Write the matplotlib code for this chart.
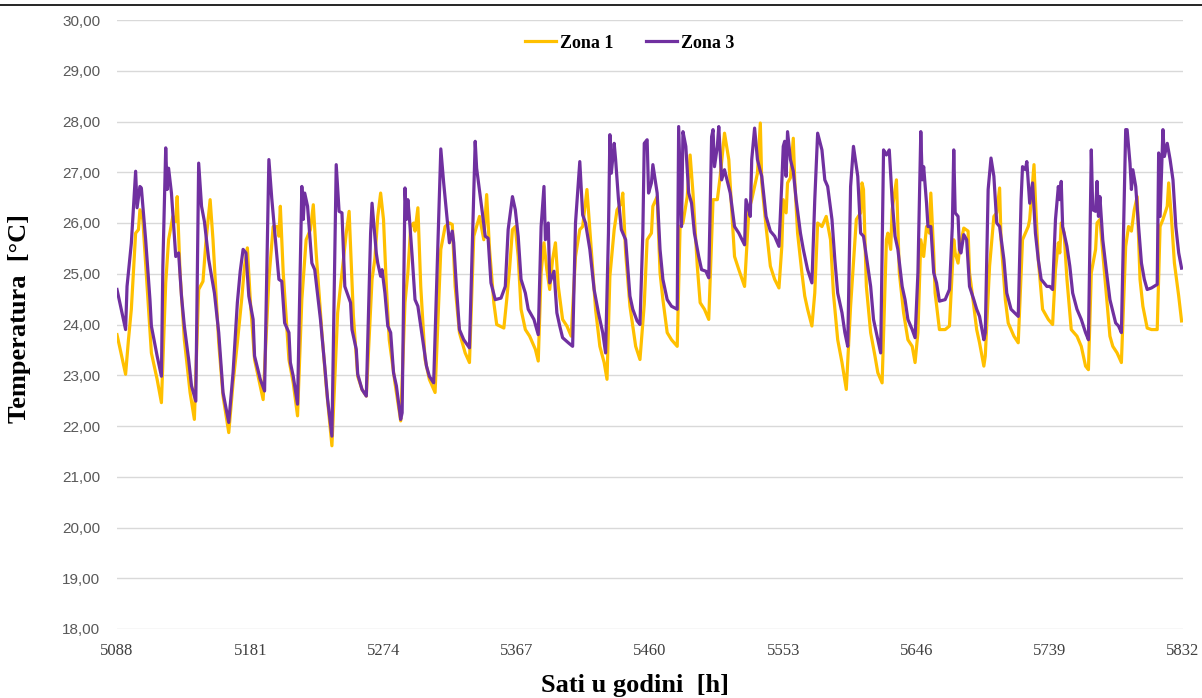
import numpy as np
import matplotlib
matplotlib.use('Agg')
import matplotlib.pyplot as plt
from matplotlib.lines import Line2D

# pocetni sat (1. jul) i tacke ocitane sa grafika: sat od pocetka, temperatura
START = 5088

zona1_h = [0, 6, 8, 10, 13, 15, 16, 18, 21, 24, 28, 31, 34, 36, 39, 41, 42, 44, 47, 51, 54, 57, 60, 62, 65, 67,
           71, 74, 78, 81, 84, 87, 89, 91, 93, 96, 102, 106, 109, 112, 113, 114, 116, 120, 123, 126, 129, 132, 135,
           137, 139, 143, 146, 150, 154, 157, 160, 162, 165, 168, 171, 174, 178, 180, 182, 184, 186, 188, 190, 194,
           198, 201, 203, 205, 207, 208, 210, 212, 215, 218, 222, 226, 229, 232, 234, 236, 239, 243, 246, 249, 253,
           256, 258, 260, 263, 265, 270, 272, 274, 276, 278, 280, 282, 285, 288, 292, 294, 296, 298, 300, 302, 304,
           306, 308, 311, 314, 317, 320, 323, 325, 328, 331, 334, 337, 340, 342, 344, 347, 349, 352, 353, 355, 358,
           362, 365, 368, 370, 373, 374, 377, 379, 381, 384, 387, 391, 393, 395, 398, 400, 402, 405, 407, 410, 413,
           416, 419, 421, 424, 427, 429, 431, 434, 438, 441, 443, 447, 449, 450, 453, 456, 459, 462, 464, 465, 467,
           468, 470, 472, 473, 475, 478, 480, 482, 485, 487, 489, 492, 495, 498, 500, 503, 506, 509, 512, 516, 519,
           520, 521, 523, 526, 529, 531, 534, 537, 538, 540, 541, 544, 546, 549, 552, 555, 557, 559, 561, 563, 565,
           567, 568, 570, 571, 574, 578, 581, 584, 585, 587, 588, 591, 594, 595, 598, 600, 602, 605, 606, 609, 612,
           614, 616, 617, 620, 622, 626, 629, 632, 634, 636, 637, 640, 641, 643, 646, 650, 653, 655, 657, 658, 659,
           661, 663, 666, 670, 673, 676, 678, 680, 683, 684, 686, 687, 690, 693, 695, 698, 701, 704, 706, 708, 710,
           712, 714, 716, 719, 722, 726, 728, 730, 733, 734, 736, 738, 741, 743]
zona1_t = [23.80, 23.02, 23.70, 24.30, 25.80, 25.87, 26.26, 26.07, 24.75, 23.44, 22.92, 22.46, 24.82, 25.67, 26.13,
           26.03, 26.52, 25.02, 23.70, 22.66, 22.13, 24.69, 24.85, 25.61, 26.46, 25.67, 23.64, 22.59, 21.87, 22.85,
           23.64, 24.49, 25.15, 25.51, 24.49, 23.31, 22.52, 24.89, 25.93, 25.93, 25.74, 26.33, 25.02, 23.31, 22.85,
           22.20, 24.49, 25.67, 25.87, 26.36, 25.41, 23.84, 22.79, 21.61, 24.23, 25.02, 25.80, 26.23, 24.16, 22.98,
           22.72, 22.59, 24.89, 25.30, 26.13, 26.59, 26.07, 24.75, 23.70, 22.85, 22.10, 24.43, 25.02, 25.93, 26.00,
           25.84, 26.30, 24.75, 23.31, 22.92, 22.66, 25.48, 25.93, 26.00, 25.97, 24.75, 23.84, 23.44, 23.25, 25.74,
           26.13, 25.67, 26.56, 25.48, 24.43, 24.00, 23.93, 24.49, 25.10, 25.87, 25.93, 25.34, 24.30, 23.90, 23.77,
           23.51, 23.28, 25.02, 25.61, 25.08, 24.69, 25.28, 25.61, 24.75, 24.10, 23.97, 23.77, 25.34, 25.87, 25.93,
           26.66, 25.48, 24.30, 23.57, 23.25, 22.92, 24.95, 25.87, 26.26, 26.39, 26.59, 25.41, 24.36, 23.57, 23.31,
           24.40, 25.67, 25.80, 26.33, 26.52, 25.02, 24.49, 23.84, 23.70, 23.57, 25.93, 26.00, 26.52, 27.34, 26.59,
           25.15, 24.43, 24.30, 24.10, 26.46, 26.46, 26.92, 27.77, 27.25, 26.26, 25.34, 25.08, 24.75, 26.26, 26.46,
           26.98, 27.97, 26.79, 25.93, 25.15, 24.89, 24.72, 25.54, 26.46, 26.20, 26.79, 26.89, 27.67, 26.85, 25.80,
           25.02, 24.56, 24.30, 23.97, 24.62, 26.00, 25.93, 26.13, 25.67, 24.62, 23.70, 23.25, 22.72, 24.36, 26.07,
           26.20, 26.79, 26.66, 24.75, 23.84, 23.38, 23.05, 22.85, 25.67, 25.80, 25.48, 26.26, 26.85, 25.02, 24.23,
           23.70, 23.57, 23.25, 23.84, 25.67, 25.34, 25.93, 25.80, 26.59, 25.41, 24.62, 23.90, 23.90, 23.97, 25.67,
           25.41, 25.21, 25.48, 25.90, 25.84, 25.02, 24.36, 23.90, 23.64, 23.18, 23.38, 25.15, 26.13, 26.20, 26.69,
           25.67, 24.49, 24.03, 23.77, 23.64, 25.67, 25.80, 25.93, 26.07, 27.15, 26.46, 25.28, 24.30, 24.10, 24.00,
           25.08, 25.61, 25.41, 26.00, 25.80, 24.89, 23.90, 23.77, 23.57, 23.18, 23.11, 25.02, 25.48, 26.00, 26.07,
           25.74, 24.75, 23.77, 23.57, 23.44, 23.25, 25.54, 25.93, 25.84, 26.26, 26.52, 24.89, 24.36, 23.93, 23.90,
           23.90, 25.93, 26.07, 26.33, 26.79, 26.07, 25.21, 24.56, 24.07]

zona3_h = [0, 6, 7, 10, 13, 14, 16, 17, 20, 23, 24, 28, 31, 32, 34, 35, 36, 38, 41, 43, 45, 47, 50, 52, 55, 57, 59,
           61, 64, 68, 71, 74, 78, 81, 84, 86, 88, 90, 92, 95, 96, 100, 103, 106, 108, 113, 115, 117, 120, 121, 123,
           126, 129, 130, 131, 133, 136, 138, 142, 145, 147, 150, 153, 155, 157, 159, 163, 164, 167, 168, 171, 174,
           177, 178, 181, 182, 184, 185, 187, 189, 191, 193, 195, 198, 199, 201, 202, 203, 204, 206, 208, 210, 213,
           216, 218, 221, 226, 228, 230, 232, 234, 235, 237, 239, 242, 246, 250, 251, 255, 257, 259, 261, 264, 268,
           271, 273, 276, 278, 280, 282, 285, 287, 291, 294, 296, 298, 299, 301, 302, 305, 307, 309, 311, 315, 318,
           320, 323, 325, 327, 330, 333, 336, 339, 341, 343, 344, 345, 347, 348, 350, 352, 355, 358, 360, 363, 365,
           367, 368, 370, 371, 373, 374, 377, 379, 381, 384, 387, 391, 392, 394, 395, 397, 399, 401, 403, 406, 408,
           411, 413, 415, 416, 417, 419, 420, 422, 424, 428, 431, 434, 438, 439, 441, 442, 443, 445, 447, 449, 450,
           453, 456, 459, 462, 464, 465, 466, 467, 468, 470, 472, 474, 477, 479, 482, 485, 487, 489, 492, 494, 496,
           499, 501, 503, 506, 508, 510, 512, 514, 517, 519, 521, 524, 526, 528, 531, 533, 535, 537, 539, 541, 543,
           545, 548, 550, 552, 555, 557, 559, 561, 562, 563, 565, 566, 568, 570, 572, 574, 578, 581, 583, 584, 585,
           587, 588, 589, 591, 593, 595, 598, 600, 602, 605, 606, 608, 610, 612, 614, 616, 619, 621, 624, 629, 631,
           632, 634, 635, 637, 639, 641, 643, 645, 649, 651, 653, 655, 657, 658, 659, 660, 663, 665, 667, 670, 673,
           676, 678, 680, 681, 683, 684, 685, 686, 688, 691, 693, 697, 699, 701, 703, 704, 705, 707, 708, 709, 711,
           713, 715, 717, 719, 722, 726, 727, 728, 730, 731, 733, 735, 737, 739, 741, 743]
zona3_t = [24.69, 23.90, 24.75, 25.60, 27.02, 26.30, 26.72, 26.69, 25.67, 24.49, 23.97, 23.38, 22.98, 25.15, 27.48,
           26.66, 27.08, 26.59, 25.34, 25.41, 24.56, 23.97, 23.31, 22.79, 22.49, 27.18, 26.33, 26.03, 25.28, 24.62,
           23.84, 22.66, 22.07, 23.05, 24.43, 25.05, 25.48, 25.41, 24.56, 24.10, 23.38, 22.92, 22.69, 27.25, 26.49,
           24.89, 24.85, 24.03, 23.84, 23.25, 22.98, 22.43, 26.72, 26.07, 26.59, 26.33, 25.21, 25.08, 24.10, 23.18,
           22.52, 21.80, 27.15, 26.23, 26.20, 24.75, 24.43, 23.90, 23.51, 23.02, 22.72, 22.59, 25.80, 26.39, 25.40,
           25.21, 24.95, 25.08, 24.62, 23.97, 23.84, 23.05, 22.79, 22.13, 22.26, 26.69, 26.07, 26.46, 26.13, 25.34,
           24.49, 24.36, 23.77, 23.18, 22.98, 22.85, 27.46, 26.79, 26.20, 25.61, 25.84, 25.61, 24.69, 23.90, 23.70,
           23.54, 27.61, 27.08, 26.20, 25.74, 25.70, 24.82, 24.49, 24.52, 24.75, 25.87, 26.52, 26.26, 25.74, 24.89,
           24.62, 24.30, 24.10, 23.80, 25.93, 26.72, 25.67, 26.00, 24.82, 25.05, 24.23, 23.97, 23.74, 23.64, 23.57,
           26.00, 27.21, 26.16, 26.00, 25.48, 24.69, 24.23, 23.84, 23.44, 25.80, 27.74, 26.98, 27.57, 27.25, 26.46,
           25.87, 25.67, 24.56, 24.30, 24.07, 24.00, 25.80, 27.57, 27.64, 26.59, 26.79, 27.15, 26.59, 25.48, 24.89,
           24.49, 24.36, 24.30, 27.90, 25.93, 27.80, 27.51, 26.59, 26.39, 25.80, 25.34, 25.08, 25.05, 24.92, 27.70,
           27.84, 27.11, 27.51, 27.90, 26.85, 27.05, 26.59, 25.93, 25.80, 25.57, 26.46, 26.26, 26.13, 27.25, 27.87,
           27.25, 27.02, 26.92, 26.13, 25.84, 25.74, 25.54, 26.80, 27.51, 27.61, 26.92, 27.80, 27.25, 27.02, 26.46,
           25.80, 25.48, 25.08, 24.82, 26.46, 27.77, 27.44, 26.85, 26.72, 26.07, 25.28, 24.62, 24.23, 23.84, 23.57,
           26.72, 27.51, 26.92, 25.80, 25.74, 25.15, 24.75, 24.10, 23.70, 23.44, 27.44, 27.34, 27.44, 26.46, 25.74,
           25.48, 24.75, 24.49, 24.10, 23.90, 23.74, 25.02, 27.80, 26.85, 27.11, 26.39, 25.93, 25.93, 25.02, 24.82,
           24.46, 24.49, 24.69, 25.93, 27.44, 26.20, 26.13, 25.48, 25.41, 25.77, 25.67, 24.75, 24.49, 24.30, 24.16,
           23.70, 23.84, 26.66, 27.28, 26.92, 26.00, 25.93, 25.28, 24.62, 24.30, 24.16, 26.46, 27.11, 27.05, 27.21,
           26.39, 26.79, 25.80, 25.28, 24.89, 24.75, 24.75, 24.69, 26.07, 26.72, 26.46, 26.82, 25.93, 25.54, 25.15,
           24.62, 24.30, 24.10, 23.84, 23.70, 27.44, 26.26, 26.23, 26.82, 26.13, 26.52, 25.67, 24.95, 24.49, 24.03,
           23.97, 23.84, 26.46, 27.84, 27.84, 27.18, 26.66, 27.05, 26.72, 25.93, 25.21, 24.89, 24.69, 24.72, 24.79,
           27.38, 26.13, 27.84, 27.31, 27.57, 27.25, 26.85, 25.93, 25.41, 25.11]

x_ticks = [5088, 5181, 5274, 5367, 5460, 5553, 5646, 5739, 5832]
y_ticks = list(range(18, 31))

fig = plt.figure(figsize=(12.02, 6.98), dpi=100)
ax = fig.add_axes([117 / 1202, 1 - 629 / 698, 1066 / 1202, 609 / 698])

ax.plot(START + np.array(zona1_h), zona1_t, color='#FFC000', lw=2.3, label='Zona 1', solid_joinstyle='round')
ax.plot(START + np.array(zona3_h), zona3_t, color='#7030A0', lw=2.3, label='Zona 3', solid_joinstyle='round')

ax.set_xlim(5088, 5832)
ax.set_ylim(18, 30)
ax.set_xticks(x_ticks)
ax.set_yticks(y_ticks)
ax.set_yticklabels([f'{v},00' for v in y_ticks], family='Liberation Sans', fontsize=11, color='#595959')
ax.set_xticklabels([str(v) for v in x_ticks], family='Liberation Serif', fontsize=12, color='#404040')
ax.tick_params(length=0)
ax.tick_params(axis='y', pad=12)
ax.tick_params(axis='x', pad=10)
ax.grid(axis='y', color='#d9d9d9', lw=1)
ax.set_axisbelow(True)
for s in ax.spines.values():
    s.set_visible(False)

ax.set_xlabel('Sati u godini  [h]', family='Liberation Serif', fontweight='bold', fontsize=19)
ax.xaxis.set_label_coords(518 / 1066, -45 / 609)
ax.set_ylabel('Temperatura  [°C]', family='Liberation Serif', fontweight='bold', fontsize=19)
ax.yaxis.set_label_coords(-86 / 1066, 0.51)

leg = ax.legend(loc='center', bbox_to_anchor=(513 / 1066, 1 + (20 - 43) / 609), ncol=2, frameon=False,
                prop={'family': 'Liberation Serif', 'weight': 'bold', 'size': 13},
                handlelength=1.7, handletextpad=0.25, columnspacing=1.8)

# gornja linija stranice
fig.add_artist(Line2D([0, 1], [1 - 5 / 698, 1 - 5 / 698], color='black', lw=1.2, transform=fig.transFigure))

fig.savefig('out.png', dpi=100)
